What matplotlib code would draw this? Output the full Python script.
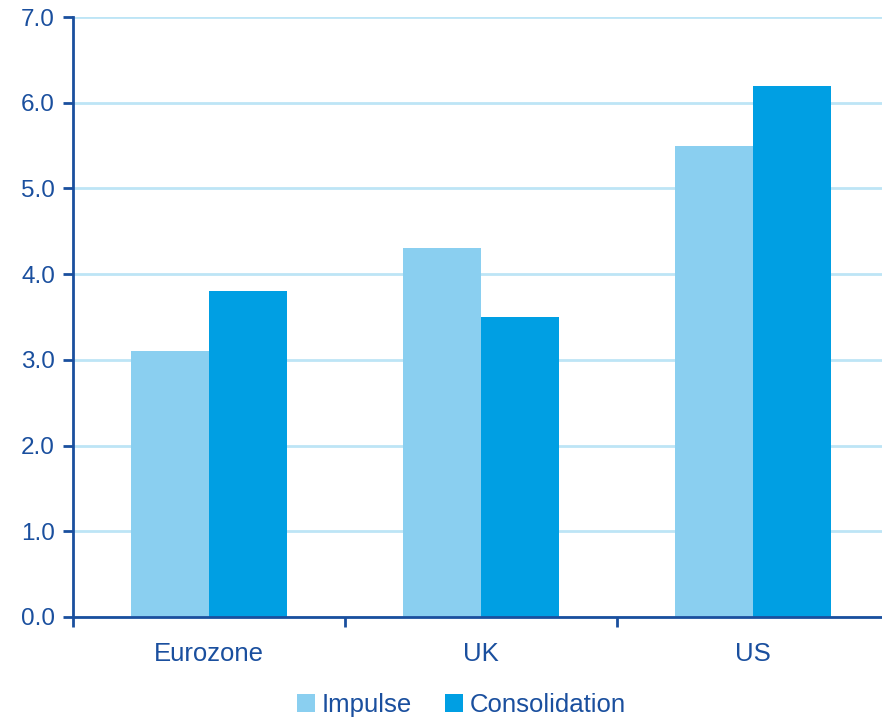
import matplotlib
matplotlib.use("Agg")
import matplotlib.pyplot as plt
import numpy as np

plt.rcParams['font.family'] = ['Liberation Sans', 'DejaVu Sans']

# regions and the two series
regions = ["Eurozone", "UK", "US"]
impulse = [3.1, 4.3, 5.5]
consolidation = [3.8, 3.5, 6.2]

navy = "#1A4F9E"
light = "#8ACFF0"
mid = "#009FE3"
grid = "#BDE5F6"

fig = plt.figure(figsize=(8.82, 7.18), dpi=100)
ax = fig.add_axes([0.0828, 0.1407, 0.925, 0.8356])

x = np.arange(len(regions))
w = 0.287
ax.bar(x - w / 2, impulse, w, color=light, label="Impulse", zorder=3)
ax.bar(x + w / 2, consolidation, w, color=mid, label="Consolidation", zorder=3)

ax.set_xlim(-0.5, 2.5)
ax.set_ylim(0, 7)
ax.set_yticks(np.arange(0, 7.5, 1.0))
ax.set_yticklabels([f"{v:.1f}" for v in np.arange(0, 7.5, 1.0)])
ax.yaxis.grid(True, color=grid, linewidth=2, zorder=0)

# category labels centred, tick marks between groups
ax.set_xticks([-0.5, 0.5, 1.5, 2.5])
ax.set_xticklabels([])
ax.set_xticks(x, minor=True)
ax.set_xticklabels(regions, minor=True)
ax.tick_params(axis="x", which="minor", length=0, pad=18, labelsize=18.5)
ax.tick_params(axis="x", which="major", length=7, width=2, color=navy)
ax.tick_params(axis="y", length=7, width=2, color=navy, pad=6, labelsize=17.5)
ax.tick_params(axis="both", which="both", labelcolor=navy)

for side in ["top", "right"]:
    ax.spines[side].set_visible(False)
for side in ["left", "bottom"]:
    ax.spines[side].set_color(navy)
    ax.spines[side].set_linewidth(2)
    ax.spines[side].set_zorder(4)

fig.legend(loc="lower center", bbox_to_anchor=(0.523, -0.031), ncol=2, frameon=False,
           fontsize=18.5, labelcolor=navy, handlelength=0.7, handleheight=0.7,
           handletextpad=0.25, columnspacing=1.3)

fig.savefig("out.png", dpi=100)
